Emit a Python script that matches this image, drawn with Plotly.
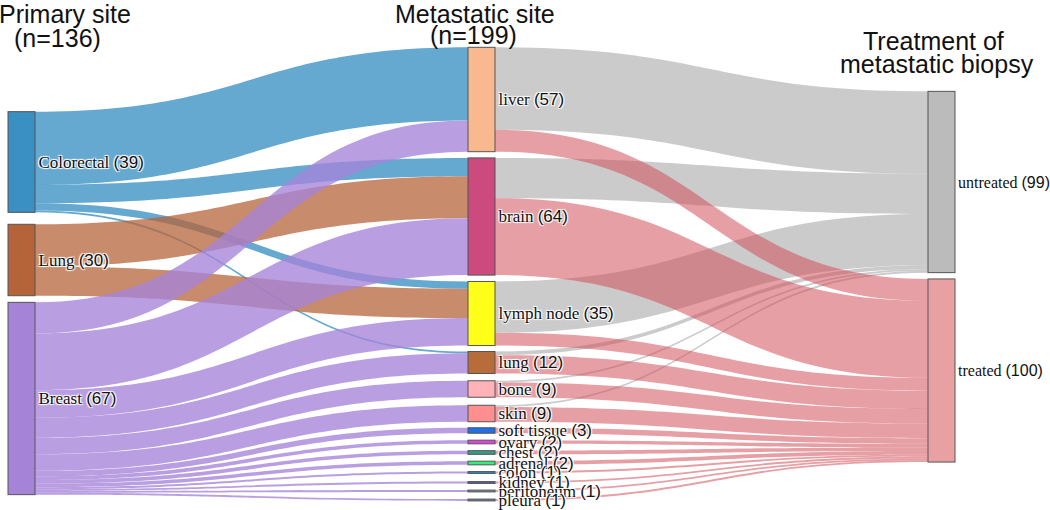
import plotly.graph_objects as go

# ---------------- data ----------------
primary_sites = ["Colorectal", "Lung", "Breast"]
primary_counts = [39, 30, 67]

met_sites = ["liver", "brain", "lymph node", "lung", "bone", "skin", "soft tissue",
             "ovary", "chest", "adrenal", "colon", "kidney", "peritoneum", "pleura"]
met_counts = [57, 64, 35, 12, 9, 9, 3, 2, 2, 2, 1, 1, 1, 1]

treat_groups = ["untreated", "treated"]
treat_counts = [99, 100]

# biopsies: primary -> metastatic site
flow_primary = ["Colorectal", "Colorectal", "Colorectal", "Colorectal",
                "Lung", "Lung",
                "Breast", "Breast", "Breast", "Breast", "Breast", "Breast", "Breast",
                "Breast", "Breast", "Breast", "Breast", "Breast", "Breast", "Breast"]
flow_met = ["liver", "brain", "lymph node", "lung",
            "brain", "lymph node",
            "liver", "brain", "lymph node", "lung", "bone", "skin", "soft tissue",
            "ovary", "chest", "adrenal", "colon", "kidney", "peritoneum", "pleura"]
flow_pm_values = [40, 10, 4, 1,
                  23, 16,
                  17, 31, 15, 11, 9, 9, 3, 2, 2, 2, 1, 1, 1, 1]

# metastatic site -> treatment
untreated_values = [45, 22, 28, 2, 1, 1, 0, 0, 0, 0, 0, 0, 0, 0]
treated_values = [12, 42, 7, 10, 8, 8, 3, 2, 2, 2, 1, 1, 1, 1]

# ---------------- styling ----------------
primary_colors = ["#3a8fc3", "#b5643a", "#a584d8"]
met_colors = ["#f9b98f", "#cc4a7e", "#ffff1a", "#b86c3a", "#ffb3b8", "#ff8f8f",
              "#1f6fe8", "#e040e0", "#3a9a8a", "#33ee77", "#2a8ac0", "#5a5aaa",
              "#7a8aa0", "#6a7a9a"]
treat_colors = ["#bbbbbb", "#e8a0a3"]

primary_link_rgba = {"Colorectal": "rgba(58,143,195,0.78)",
                     "Lung": "rgba(181,100,58,0.75)",
                     "Breast": "rgba(165,132,216,0.78)"}
treat_link_rgba = ["rgba(160,160,160,0.55)", "rgba(210,80,90,0.55)"]

W, H = 1050, 510
thick = 27
# node centre positions in pixels
primary_xc, met_xc, treat_xc = 21.5, 481.5, 941.5
primary_yc = [162, 260, 398.5]
met_yc = [99.5, 216.5, 313.5, 362.5, 389, 413.5, 430.5, 442, 452.5, 463, 472.5,
          482.5, 491, 500]
treat_yc = [182, 370.5]

serif = "Liberation Serif, Times New Roman, serif"
sans = "Liberation Sans, Arial, sans-serif"
label_font = dict(family=serif, size=17, color="#111111")


def lab(name, count):
    return f'{name} <span style="font-family:{sans}">({count})</span>'


# ---------------- build ----------------
labels = ([lab(s, c) for s, c in zip(primary_sites, primary_counts)] +
          [lab(s, c) for s, c in zip(met_sites, met_counts)] +
          [""] * len(treat_groups))
colors = primary_colors + met_colors + treat_colors
xs = ([primary_xc / W] * len(primary_sites) + [met_xc / W] * len(met_sites) +
      [treat_xc / W] * len(treat_groups))
ys = [y / H for y in primary_yc + met_yc + treat_yc]

np_ = len(primary_sites)
nm = len(met_sites)
src, tgt, val, lcol = [], [], [], []
for p, m, v in zip(flow_primary, flow_met, flow_pm_values):
    src.append(primary_sites.index(p))
    tgt.append(np_ + met_sites.index(m))
    val.append(v)
    lcol.append(primary_link_rgba[p])
for k, vals in enumerate([untreated_values, treated_values]):
    for i, v in enumerate(vals):
        if v > 0:
            src.append(np_ + i)
            tgt.append(np_ + nm + k)
            val.append(v)
            lcol.append(treat_link_rgba[k])

fig = go.Figure(go.Sankey(
    arrangement="fixed",
    domain=dict(x=[0, 1], y=[0, 1]),
    node=dict(label=labels, color=colors, x=xs, y=ys, pad=11.2, thickness=thick,
              line=dict(color="#555555", width=1)),
    link=dict(source=src, target=tgt, value=val, color=lcol),
    textfont=label_font,
))

# labels of the last column sit to the right of their nodes
for g, c, y in zip(treat_groups, treat_counts, treat_yc):
    fig.add_annotation(text=lab(g, c), x=(treat_xc + thick / 2 + 1) / W,
                       y=1 - y / H, xref="paper", yref="paper", xanchor="left",
                       yanchor="middle", showarrow=False,
                       font=dict(family=serif, size=16, color="#111111"))

title_font = dict(family=sans, size=25, color="#111111")
titles = [("Primary site", 65, 14), ("(n=136)", 57, 38),
          ("Metastatic site", 475, 14), ("(n=199)", 474, 35),
          ("Treatment of", 933, 41), ("metastatic biopsy", 937, 64)]
for t, x, y in titles:
    fig.add_annotation(text=t, x=x / W, y=1 - y / H, xref="paper", yref="paper",
                       xanchor="center", yanchor="middle", showarrow=False,
                       font=title_font)

fig.update_layout(width=W, height=H, margin=dict(l=0, r=0, t=0, b=0),
                  paper_bgcolor="white", plot_bgcolor="white")
fig.write_html("out.html", config={"displayModeBar": False},
               post_script="document.body.style.margin='0px';"
                           "document.body.style.overflow='hidden';")
